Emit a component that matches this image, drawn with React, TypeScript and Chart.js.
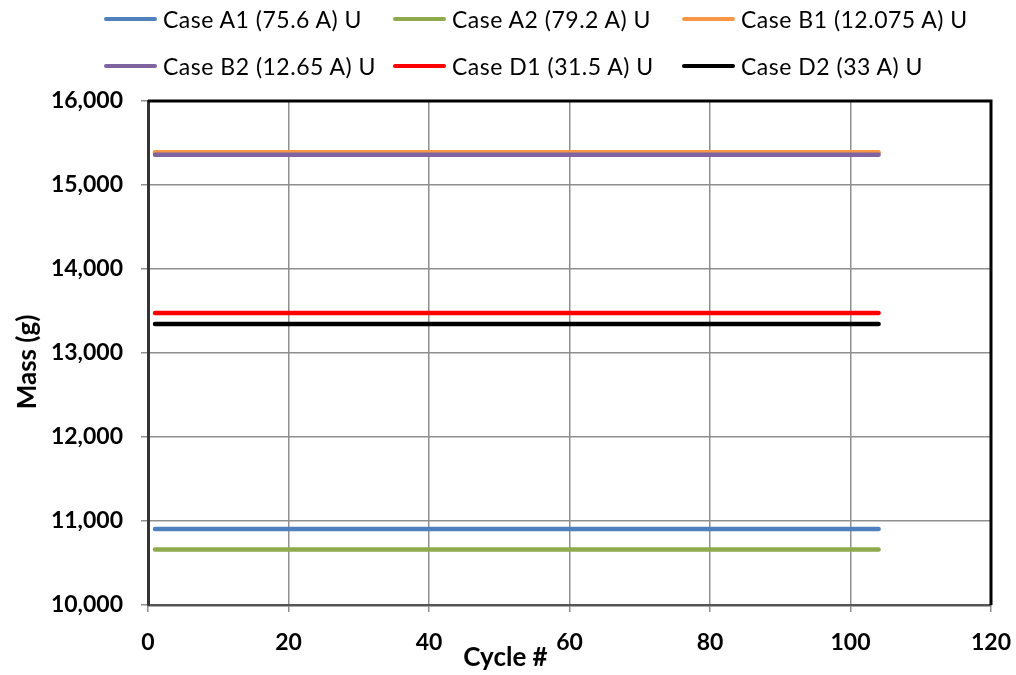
import React, { useEffect, useRef } from "react";
import { Chart, registerables } from "chart.js";

Chart.register(...registerables);

const cycles = [1, 104];
const caseA1 = [10905, 10905];
const caseA2 = [10660, 10660];
const caseB1 = [15390, 15390];
const caseB2 = [15360, 15360];
const caseD1 = [13475, 13475];
const caseD2 = [13345, 13345];

const seriesLabels = [
  "Case A1 (75.6 A) U",
  "Case A2 (79.2 A) U",
  "Case B1 (12.075 A) U",
  "Case B2 (12.65 A) U",
  "Case D1 (31.5 A) U",
  "Case D2 (33 A) U",
];
const seriesValues = [caseA1, caseA2, caseB1, caseB2, caseD1, caseD2];
const seriesColors = ["#4F81BD", "#8EAA4D", "#F79646", "#8064A2", "#FF0000", "#000000"];

const xTitle = "Cycle #";
const yTitle = "Mass (g)";

const FONT = "Lato, 'DejaVu Sans', sans-serif";

const framePlugin = {
  id: "frame",
  afterDraw(chart: any) {
    const { ctx, chartArea } = chart;
    const { left, right, top, bottom } = chartArea;
    ctx.save();
    ctx.strokeStyle = "#000";
    ctx.lineWidth = 3;
    ctx.beginPath();
    ctx.moveTo(left, top);
    ctx.lineTo(right, top);
    ctx.lineTo(right, bottom);
    ctx.stroke();
    ctx.fillStyle = "#000";
    ctx.font = `bold 26px ${FONT}`;
    ctx.textAlign = "center";
    ctx.textBaseline = "middle";
    ctx.fillText(xTitle, (left + right) / 2 - 64, bottom + 53);
    ctx.translate(28, (top + bottom) / 2 + 9);
    ctx.rotate(-Math.PI / 2);
    ctx.fillText(yTitle, 0, 0);
    ctx.restore();
  },
};

export default function App() {
  const ref = useRef<HTMLCanvasElement | null>(null);

  useEffect(() => {
    if (!ref.current) return;
    const datasets = seriesLabels.map((label, i) => ({
      label,
      data: cycles.map((c, j) => ({ x: c, y: seriesValues[i][j] })),
      borderColor: seriesColors[i],
      backgroundColor: seriesColors[i],
      borderWidth: 4.5,
      borderCapStyle: "round" as const,
      pointRadius: 0,
      fill: false,
      order: 10 - i,
    }));
    const chart = new Chart(ref.current, {
      type: "line",
      data: { datasets },
      options: {
        animation: false,
        responsive: true,
        maintainAspectRatio: false,
        layout: { padding: { top: 101, right: 25, left: 0, bottom: 0 } },
        plugins: { legend: { display: false }, tooltip: { enabled: false } },
        scales: {
          x: {
            type: "linear",
            min: 0,
            max: 120,
            ticks: {
              stepSize: 20,
              padding: 17,
              color: "#000",
              font: { family: FONT, size: 23, weight: "bold" },
            },
            grid: { color: "#8f8f8f", lineWidth: 1.5, tickLength: 7, tickColor: "#8f8f8f" },
            border: { color: "#555", width: 2.5 },
            afterFit(scale: any) {
              scale.height = 70;
              scale.paddingLeft = 0;
              scale.paddingRight = 0;
            },
          },
          y: {
            type: "linear",
            min: 10000,
            max: 16000,
            ticks: {
              stepSize: 1000,
              padding: 18,
              color: "#000",
              font: { family: FONT, size: 23, weight: "bold" },
              callback: (v: any) => Number(v).toLocaleString("en-US"),
            },
            grid: { color: "#8f8f8f", lineWidth: 1.5, tickLength: 7, tickColor: "#8f8f8f" },
            border: { color: "#333", width: 3 },
            afterFit(scale: any) {
              scale.width = 148;
              scale.paddingTop = 0;
              scale.paddingBottom = 0;
            },
          },
        },
      },
      plugins: [framePlugin],
    });
    return () => chart.destroy();
  }, []);

  const colX = [104, 393, 682];
  const rowY = [19, 66];

  return (
    <div style={{ position: "absolute", left: 0, top: 0, width: 1016, height: 675, background: "#fff" }}>
      <canvas ref={ref} style={{ position: "absolute", left: 0, top: 0 }} />
      {seriesLabels.map((label, i) => (
        <div
          key={label}
          style={{
            position: "absolute",
            left: colX[i % 3],
            top: rowY[Math.floor(i / 3)] - 15,
            height: 30,
            display: "flex",
            alignItems: "center",
            fontFamily: FONT,
            fontSize: 23,
            letterSpacing: 0.5,
            color: "#000",
            whiteSpace: "nowrap",
          }}
        >
          <span
            style={{
              display: "inline-block",
              width: 53,
              height: 4,
              borderRadius: 2,
              background: seriesColors[i],
              marginRight: 6,
            }}
          />
          <span>{label}</span>
        </div>
      ))}
    </div>
  );
}
